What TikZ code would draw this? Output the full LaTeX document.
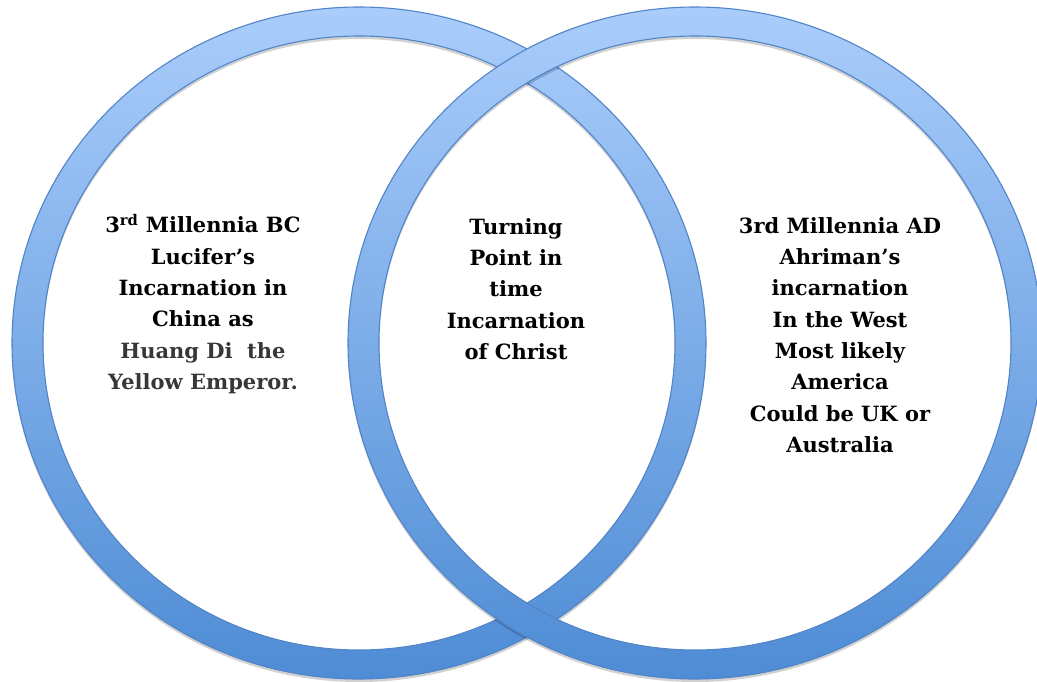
\documentclass[tikz,border=0pt]{standalone}
\usepackage{fontspec}
\setmainfont{DejaVu Serif}
\definecolor{ringtop}{RGB}{170,205,251}
\definecolor{ringbot}{RGB}{78,140,213}
\definecolor{ringedge}{RGB}{82,132,200}
\definecolor{darkgraytxt}{RGB}{55,55,55}
\tikzset{
  txt/.style={align=center, inner sep=0pt, font=\bfseries\fontsize{21}{31.3}\selectfont},
  ringfill/.style={even odd rule, top color=ringtop, bottom color=ringbot},
  ringline/.style={draw=ringedge, line width=1.1pt},
  ringshadow/.style={even odd rule, fill=black, opacity=0.18}
}
\begin{document}
\begin{tikzpicture}[x=1pt,y=-1pt]
\useasboundingbox (0,0) rectangle (1037,681);
% left ring
\coordinate (cl) at (359,343);
\coordinate (cr) at (695,343);
\path[ringshadow] ([yshift=-3pt]cl) ellipse [x radius=347pt, y radius=336pt]
                  ([yshift=-3pt]cl) ellipse [x radius=316pt, y radius=307pt];
\path[ringfill] (cl) ellipse [x radius=347pt, y radius=336pt]
                (cl) ellipse [x radius=316pt, y radius=307pt];
\path[ringline] (cl) ellipse [x radius=347pt, y radius=336pt];
\path[ringline] (cl) ellipse [x radius=316pt, y radius=307pt];
% right ring
\path[ringshadow] ([yshift=-3pt]cr) ellipse [x radius=347pt, y radius=336pt]
                  ([yshift=-3pt]cr) ellipse [x radius=316pt, y radius=307pt];
\path[ringfill] (cr) ellipse [x radius=347pt, y radius=336pt]
                (cr) ellipse [x radius=316pt, y radius=307pt];
\path[ringline] (cr) ellipse [x radius=347pt, y radius=336pt];
\path[ringline] (cr) ellipse [x radius=316pt, y radius=307pt];
% texts
\node[txt] (left) at (203,304) {3\textsuperscript{rd} Millennia BC\\Lucifer’s\\Incarnation in\\China as\\{\color{darkgraytxt}Huang Di\ \ the}\\{\color{darkgraytxt}Yellow Emperor.}};
\node[txt] (mid) at (516,289) {Turning\\Point in\\time\\Incarnation\\of Christ};
\node[txt] (right) at (840,335) {3rd Millennia AD\\Ahriman’s\\incarnation\\In the West\\Most likely\\America\\Could be UK or\\Australia};
\end{tikzpicture}
\end{document}
